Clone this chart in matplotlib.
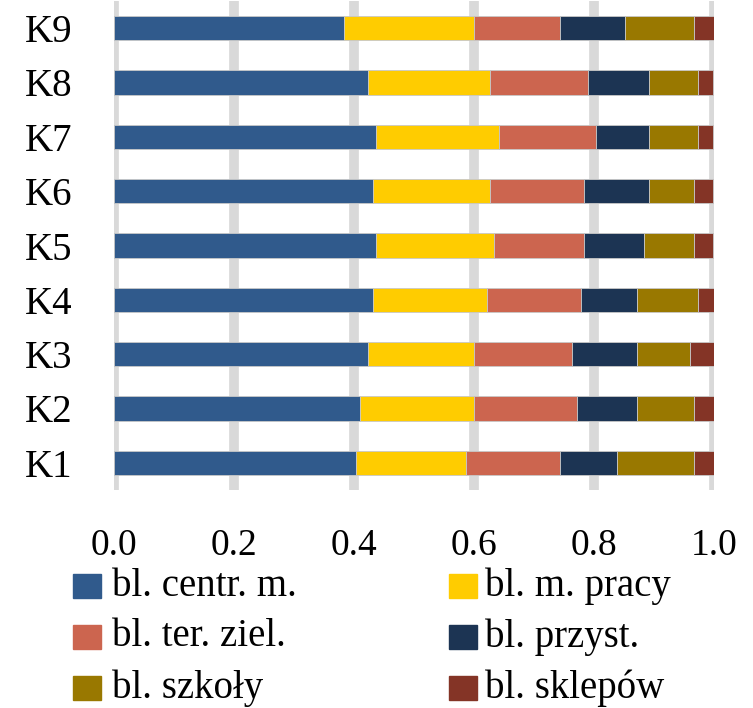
import matplotlib.pyplot as plt
from matplotlib.patches import Rectangle

# udziały poszczególnych bloków w każdej kategorii K1..K9
kategorie = ['K1', 'K2', 'K3', 'K4', 'K5', 'K6', 'K7', 'K8', 'K9']
bl_centr_m = [0.404, 0.410, 0.424, 0.431, 0.437, 0.431, 0.437, 0.424, 0.383]
bl_m_pracy = [0.183, 0.190, 0.176, 0.190, 0.197, 0.196, 0.204, 0.203, 0.217]
bl_ter_ziel = [0.157, 0.171, 0.164, 0.157, 0.150, 0.157, 0.163, 0.163, 0.143]
bl_przyst = [0.094, 0.101, 0.108, 0.094, 0.100, 0.107, 0.087, 0.101, 0.108]
bl_szkoly = [0.129, 0.095, 0.088, 0.102, 0.082, 0.075, 0.082, 0.082, 0.116]
bl_sklepow = [0.033, 0.033, 0.040, 0.026, 0.033, 0.033, 0.026, 0.026, 0.033]

serie = [bl_centr_m, bl_m_pracy, bl_ter_ziel, bl_przyst, bl_szkoly, bl_sklepow]
etykiety = ['bl. centr. m.', 'bl. m. pracy', 'bl. ter. ziel.',
            'bl. przyst.', 'bl. szkoły', 'bl. sklepów']
kolory = ['#305A8C', '#FFCC00', '#CC654F', '#1C3453', '#997800', '#843426']
xticks = [0.0, 0.2, 0.4, 0.6, 0.8, 1.0]

plt.rcParams['font.family'] = ['Liberation Serif', 'DejaVu Serif']

W, H = 753, 708
fig = plt.figure(figsize=(W / 100, H / 100), dpi=100)
ax = fig.add_axes([114 / W, (H - 490) / H, 600 / W, 489 / H])

y = list(range(1, len(kategorie) + 1))
left = [0.0] * len(kategorie)
for vals, kol in zip(serie, kolory):
    ax.barh(y, vals, left=left, height=0.45, color=kol,
            edgecolor='#c8c8c8', linewidth=0.6, zorder=3)
    left = [a + b for a, b in zip(left, vals)]

ax.set_xlim(0, 1.0)
ax.set_ylim(0.5, 9.5)
ax.set_xticks(xticks)
ax.set_xticklabels(['%.1f' % t for t in xticks])
ax.set_yticks(y)
ax.set_yticklabels(kategorie)
ax.tick_params(axis='x', length=0, pad=28, labelsize=27)
ax.tick_params(axis='y', length=0, pad=30, labelsize=28)
for s in ax.spines.values():
    s.set_visible(False)
ax.grid(axis='x', color='#d9d9d9', linewidth=7, zorder=0)
ax.set_axisbelow(True)

# legenda w dwóch kolumnach
sq_x = [73, 449]
txt_x = [112, 485]
row_y = [586, 637, 688]
for i, (lab, kol) in enumerate(zip(etykiety, kolory)):
    r, c = i // 2, i % 2
    yc = row_y[r]
    fig.patches.append(Rectangle((sq_x[c] / W, (H - yc - 12) / H), 28 / W, 24 / H,
                                 transform=fig.transFigure, color=kol))
    fig.text(txt_x[c] / W, (H - yc) / H, lab, fontsize=28, va='center', ha='left')

fig.savefig('out.png', dpi=100)
